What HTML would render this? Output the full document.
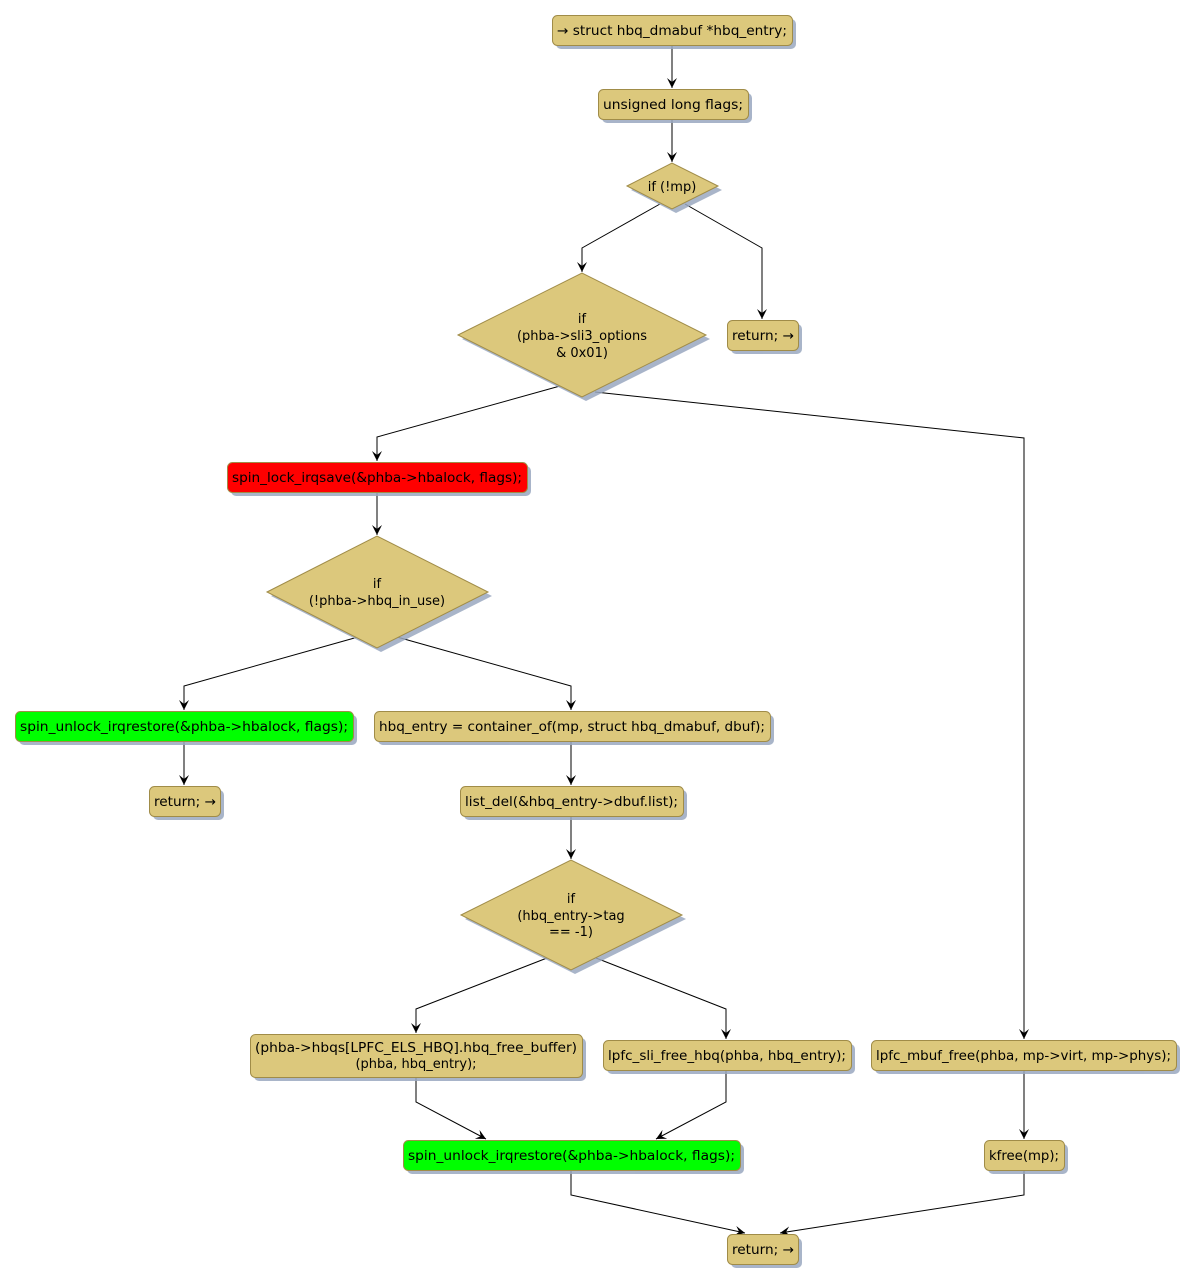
<!DOCTYPE html>
<html><head><meta charset="utf-8"><style>
html,body{margin:0;padding:0;background:#fff}
svg{display:block}
text{font-family:"DejaVu Sans","Liberation Sans",sans-serif;font-size:13px;fill:#000}
</style></head><body>
<svg width="1196" height="1283" viewBox="0 0 1196 1283" xmlns="http://www.w3.org/2000/svg">
<defs>
<marker id="a" markerWidth="12" markerHeight="12" refX="10" refY="5" orient="auto" markerUnits="userSpaceOnUse">
<path d="M0,0 L10,5 L0,10 L4,5 Z" fill="#000"/>
</marker>
</defs>
<g fill="none" stroke="#000" stroke-width="1">
<path d="M672,45 V88" marker-end="url(#a)"/>
<path d="M672,119 V162" marker-end="url(#a)"/>
<path d="M660,204 L582,248 V272" marker-end="url(#a)"/>
<path d="M685,204 L762,248 V319" marker-end="url(#a)"/>
<path d="M560,386 L377,437 V461" marker-end="url(#a)"/>
<path d="M595,392 L1024,438 V1039" marker-end="url(#a)"/>
<path d="M377,492 V535" marker-end="url(#a)"/>
<path d="M358,637 L184,686 V710" marker-end="url(#a)"/>
<path d="M397,637 L571,686 V710" marker-end="url(#a)"/>
<path d="M184,741 V785" marker-end="url(#a)"/>
<path d="M571,741 V785" marker-end="url(#a)"/>
<path d="M571,816 V859" marker-end="url(#a)"/>
<path d="M547,958 L416,1009 V1033" marker-end="url(#a)"/>
<path d="M596,958 L726,1009 V1039" marker-end="url(#a)"/>
<path d="M416,1077 V1102 L486,1139" marker-end="url(#a)"/>
<path d="M726,1070 V1102 L656,1139" marker-end="url(#a)"/>
<path d="M1024,1070 V1139" marker-end="url(#a)"/>
<path d="M571,1170 V1195 L745,1233" marker-end="url(#a)"/>
<path d="M1024,1170 V1195 L780,1233" marker-end="url(#a)"/>
</g>
<!-- shadows -->
<g fill="#9aa8c0" opacity="0.85">
<rect x="556" y="19" width="240" height="30" rx="5"/>
<rect x="602" y="93" width="150" height="30" rx="5"/>
<polygon points="631,190 676,167 722,190 676,213"/>
<polygon points="462,339 586,277 710,339 586,401"/>
<rect x="731" y="324" width="71" height="30" rx="5"/>
<rect x="231" y="466" width="300" height="30" rx="5"/>
<polygon points="271,596 381,540 492,596 381,652"/>
<rect x="19" y="715" width="338" height="30" rx="5"/>
<rect x="378" y="715" width="396" height="30" rx="5"/>
<rect x="153" y="790" width="71" height="30" rx="5"/>
<rect x="464" y="790" width="223" height="30" rx="5"/>
<polygon points="465,919 575,864 686,919 575,974"/>
<rect x="254" y="1038" width="332" height="43" rx="5"/>
<rect x="607" y="1044" width="248" height="30" rx="5"/>
<rect x="875" y="1044" width="305" height="30" rx="5"/>
<rect x="407" y="1144" width="337" height="30" rx="5"/>
<rect x="988" y="1144" width="80" height="30" rx="5"/>
<rect x="731" y="1238" width="71" height="30" rx="5"/>
</g>
<g stroke="#a08c48" stroke-width="1">
<rect x="552.5" y="15.5" width="240" height="30" rx="5" fill="#dcc87c"/>
<rect x="598.5" y="89.5" width="150" height="30" rx="5" fill="#dcc87c"/>
<polygon points="627,186 672,163 718,186 672,209" fill="#dcc87c"/>
<polygon points="458,335 582,273 706,335 582,397" fill="#dcc87c"/>
<rect x="727.5" y="320.5" width="71" height="30" rx="5" fill="#dcc87c"/>
<rect x="227.5" y="462.5" width="300" height="30" rx="5" fill="#ff0000"/>
<polygon points="267,592 377,536 488,592 377,648" fill="#dcc87c"/>
<rect x="15.5" y="711.5" width="338" height="30" rx="5" fill="#00ff00"/>
<rect x="374.5" y="711.5" width="396" height="30" rx="5" fill="#dcc87c"/>
<rect x="149.5" y="786.5" width="71" height="30" rx="5" fill="#dcc87c"/>
<rect x="460.5" y="786.5" width="223" height="30" rx="5" fill="#dcc87c"/>
<polygon points="461,915 571,860 682,915 571,970" fill="#dcc87c"/>
<rect x="250.5" y="1034.5" width="332" height="43" rx="5" fill="#dcc87c"/>
<rect x="603.5" y="1040.5" width="248" height="30" rx="5" fill="#dcc87c"/>
<rect x="871.5" y="1040.5" width="305" height="30" rx="5" fill="#dcc87c"/>
<rect x="403.5" y="1140.5" width="337" height="30" rx="5" fill="#00ff00"/>
<rect x="984.5" y="1140.5" width="80" height="30" rx="5" fill="#dcc87c"/>
<rect x="727.5" y="1234.5" width="71" height="30" rx="5" fill="#dcc87c"/>
</g>
<g>
<text x="557" y="35" textLength="230" lengthAdjust="spacingAndGlyphs">→ struct hbq_dmabuf *hbq_entry;</text>
<text x="603" y="109" textLength="140" lengthAdjust="spacingAndGlyphs">unsigned long flags;</text>
<text x="672" y="191" text-anchor="middle">if (!mp)</text>
<text x="582" y="323" text-anchor="middle">if</text>
<text x="582" y="340" text-anchor="middle">(phba-&gt;sli3_options</text>
<text x="582" y="357" text-anchor="middle">&amp; 0x01)</text>
<text x="732" y="340" textLength="62" lengthAdjust="spacingAndGlyphs">return; →</text>
<text x="232" y="482" textLength="290" lengthAdjust="spacingAndGlyphs">spin_lock_irqsave(&amp;phba-&gt;hbalock, flags);</text>
<text x="377" y="588" text-anchor="middle">if</text>
<text x="377" y="605" text-anchor="middle">(!phba-&gt;hbq_in_use)</text>
<text x="20" y="731" textLength="328" lengthAdjust="spacingAndGlyphs">spin_unlock_irqrestore(&amp;phba-&gt;hbalock, flags);</text>
<text x="379" y="731" textLength="386" lengthAdjust="spacingAndGlyphs">hbq_entry = container_of(mp, struct hbq_dmabuf, dbuf);</text>
<text x="154" y="806" textLength="62" lengthAdjust="spacingAndGlyphs">return; →</text>
<text x="465" y="806" textLength="213" lengthAdjust="spacingAndGlyphs">list_del(&amp;hbq_entry-&gt;dbuf.list);</text>
<text x="571" y="903" text-anchor="middle">if</text>
<text x="571" y="920" text-anchor="middle">(hbq_entry-&gt;tag</text>
<text x="571" y="936" text-anchor="middle">== -1)</text>
<text x="255" y="1052" textLength="322" lengthAdjust="spacingAndGlyphs">(phba-&gt;hbqs[LPFC_ELS_HBQ].hbq_free_buffer)</text>
<text x="416" y="1068" text-anchor="middle">(phba, hbq_entry);</text>
<text x="608" y="1060" textLength="238" lengthAdjust="spacingAndGlyphs">lpfc_sli_free_hbq(phba, hbq_entry);</text>
<text x="876" y="1060" textLength="295" lengthAdjust="spacingAndGlyphs">lpfc_mbuf_free(phba, mp-&gt;virt, mp-&gt;phys);</text>
<text x="408" y="1160" textLength="327" lengthAdjust="spacingAndGlyphs">spin_unlock_irqrestore(&amp;phba-&gt;hbalock, flags);</text>
<text x="989" y="1160" textLength="70" lengthAdjust="spacingAndGlyphs">kfree(mp);</text>
<text x="732" y="1254" textLength="62" lengthAdjust="spacingAndGlyphs">return; →</text>
</g>
</svg>
</body></html>
